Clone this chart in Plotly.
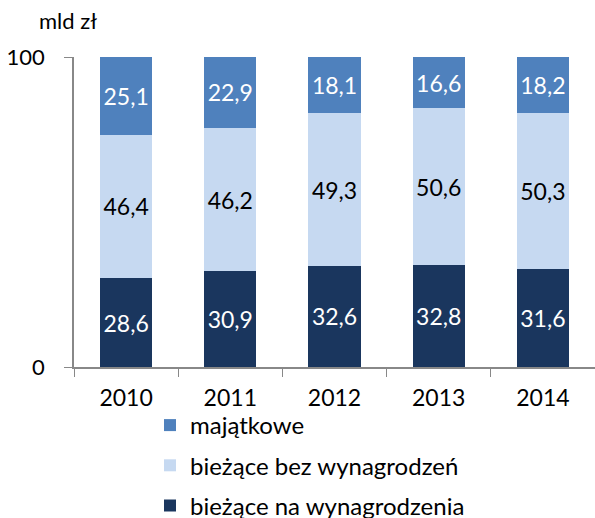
import plotly.graph_objects as go

years = ["2010", "2011", "2012", "2013", "2014"]
na_wynagrodzenia = [28.6, 30.9, 32.6, 32.8, 31.6]
bez_wynagrodzen = [46.4, 46.2, 49.3, 50.6, 50.3]
majatkowe = [25.1, 22.9, 18.1, 16.6, 18.2]
ytick_vals = [0, 100]

def fmt(vals):
    return [f"{v:.1f}".replace(".", ",") for v in vals]

FONT = "Lato"
W, H = 595, 518
ML, MT, MB = 74, 57, 151
PH = H - MT - MB
series = [
    ("bieżące na wynagrodzenia", na_wynagrodzenia, "#1A365E", "white", 3),
    ("bieżące bez wynagrodzeń", bez_wynagrodzen, "#C6D9F1", "black", 2),
    ("majątkowe", majatkowe, "#4F81BD", "white", 1),
]

fig = go.Figure()
for name, vals, color, tcol, rank in series:
    fig.add_trace(go.Bar(
        x=years, y=vals, name=name, legendgroup=name, legendrank=rank,
        marker=dict(color=color, line=dict(width=0)),
        text=fmt(vals), textposition="inside", insidetextanchor="middle",
        textfont=dict(color=tcol, size=23, family=FONT),
        textangle=0, width=0.5,
    ))

fig.update_layout(
    barmode="stack",
    width=W, height=H,
    margin=dict(l=ML, r=0, t=MT, b=MB, autoexpand=False),
    paper_bgcolor="white", plot_bgcolor="white",
    font=dict(family=FONT, size=23, color="black"),
    showlegend=True,
    legend=dict(
        traceorder="grouped", tracegroupgap=6,
        x=(150 - ML) / (W - ML), y=(H - MB - 403) / PH,
        xanchor="left", yanchor="top",
        font=dict(size=24, family=FONT), itemwidth=30,
        bgcolor="rgba(0,0,0,0)",
    ),
    uniformtext=dict(mode="show", minsize=10),
)
fig.update_xaxes(
    type="category", tickson="boundaries",
    ticks="outside", ticklen=8, tickcolor="#888888",
    showline=True, linecolor="#888888", linewidth=1.5,
    tickfont=dict(size=23, family=FONT), range=[-0.5, 4.5],
    ticklabelstandoff=10, automargin=False,
)
fig.update_yaxes(
    range=[0, 100], tickvals=ytick_vals, ticktext=[str(v) for v in ytick_vals],
    ticks="outside", ticklen=8, tickcolor="#888888",
    showline=True, linecolor="#888888", linewidth=1.5,
    showgrid=True, gridcolor="#D9D9D9", gridwidth=1.5,
    zeroline=False, tickfont=dict(size=22, family=FONT),
    ticklabelstandoff=15, automargin=False,
)
fig.add_annotation(
    text="mld zł", xref="paper", yref="paper",
    x=(68 - ML) / (W - ML), y=(H - MB - 21) / PH,
    xanchor="center", yanchor="middle", showarrow=False,
    font=dict(size=22, family=FONT),
)
fig.write_html("out.html", config={"displayModeBar": False},
               post_script="document.body.style.margin='0px';")
